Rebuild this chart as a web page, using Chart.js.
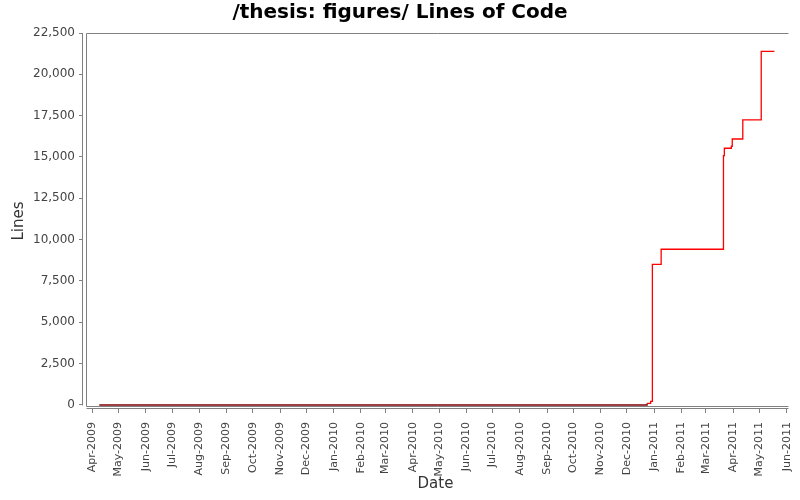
<!DOCTYPE html>
<html>
<head>
<meta charset="utf-8">
<title>/thesis: figures/ Lines of Code</title>
<script src="https://cdn.jsdelivr.net/npm/chart.js@4.4.1/dist/chart.umd.min.js"></script>
<style>
  html, body { margin: 0; padding: 0; background: #fff; }
  #wrap { width: 800px; height: 500px; }
</style>
</head>
<body>
<div id="wrap"><canvas id="locChart" width="800" height="500"></canvas></div>
<script>
// commit dates and line counts
const commitDates = ['2009-04-09', '2010-12-24', '2010-12-28', '2010-12-30', '2011-01-09',
    '2011-03-21', '2011-03-22', '2011-03-30', '2011-03-31', '2011-04-12', '2011-05-03', '2011-05-18'];
const linesOfCode = [0, 100, 220, 8510, 9420, 15080, 15530, 15650, 16090, 17240, 21390, 21390];

const monthLabels = ['Apr-2009', 'May-2009', 'Jun-2009', 'Jul-2009', 'Aug-2009', 'Sep-2009',
    'Oct-2009', 'Nov-2009', 'Dec-2009', 'Jan-2010', 'Feb-2010', 'Mar-2010', 'Apr-2010',
    'May-2010', 'Jun-2010', 'Jul-2010', 'Aug-2010', 'Sep-2010', 'Oct-2010', 'Nov-2010',
    'Dec-2010', 'Jan-2011', 'Feb-2011', 'Mar-2011', 'Apr-2011', 'May-2011', 'Jun-2011'];
const yTicks = [0, 2500, 5000, 7500, 10000, 12500, 15000, 17500, 20000, 22500];

const MONTHS = ['Jan', 'Feb', 'Mar', 'Apr', 'May', 'Jun', 'Jul', 'Aug', 'Sep', 'Oct', 'Nov', 'Dec'];
function labelToTime(label) {
    const [m, y] = label.split('-');
    return Date.UTC(+y, MONTHS.indexOf(m), 1);
}
const monthTimes = monthLabels.map(labelToTime);
const points = commitDates.map((d, i) => ({ x: Date.parse(d), y: linesOfCode[i] }));

const axisGray = '#808080';

// plot frame and offset axis lines, like the original chart
const framePlugin = {
    id: 'frame',
    beforeDatasetsDraw(chart) {
        const { ctx, chartArea, scales } = chart;
        const y0 = Math.round(scales.y.getPixelForValue(0)) + 0.5;
        const yTop = Math.round(scales.y.getPixelForValue(22500)) + 0.5;
        const xl = Math.round(chartArea.left) + 3.5;
        const xr = Math.round(chartArea.right) + 0.5;
        ctx.save();
        ctx.strokeStyle = axisGray;
        ctx.lineWidth = 1;
        ctx.beginPath();
        // plot outline
        ctx.moveTo(xl, y0 + 1);
        ctx.lineTo(xl, yTop);
        ctx.lineTo(xr, yTop);
        ctx.moveTo(xl, y0 + 1);
        ctx.lineTo(xr, y0 + 1);
        // y axis line
        ctx.moveTo(Math.round(chartArea.left) - 0.5, yTop);
        ctx.lineTo(Math.round(chartArea.left) - 0.5, y0);
        // x axis line
        const yb = Math.round(chartArea.bottom) - 0.5;
        ctx.moveTo(xl, yb);
        ctx.lineTo(xr, yb);
        ctx.stroke();
        ctx.restore();
    }
};

new Chart(document.getElementById('locChart'), {
    type: 'line',
    data: {
        datasets: [{
            label: 'Lines',
            data: points,
            stepped: true,
            borderColor: '#ff0000',
            borderWidth: 1.3,
            pointRadius: 0,
            fill: false,
            segment: {
                borderColor: c => (c.p0.parsed.y === 0 ? '#800000' : undefined)
            }
        }]
    },
    options: {
        responsive: false,
        animation: false,
        layout: { padding: 0 },
        plugins: {
            legend: { display: false },
            tooltip: { enabled: false },
            title: {
                display: true,
                text: '/thesis: figures/ Lines of Code',
                color: '#000',
                font: { family: 'DejaVu Sans', size: 20, weight: 'bold' },
                padding: { top: 1, bottom: 8 }
            }
        },
        scales: {
            x: {
                type: 'linear',
                min: Date.UTC(2009, 2, 21, 10),
                max: Date.UTC(2011, 5, 2, 12),
                afterBuildTicks: scale => {
                    scale.ticks = monthTimes.map(v => ({ value: v }));
                },
                afterFit: scale => {
                    scale.height = 91;
                    scale.paddingLeft = 0;
                    scale.paddingRight = 12;
                },
                border: { display: false },
                grid: { drawOnChartArea: false, drawTicks: true, tickLength: 4, color: axisGray },
                ticks: {
                    autoSkip: false,
                    minRotation: 90,
                    maxRotation: 90,
                    padding: 9,
                    color: '#444',
                    font: { family: 'DejaVu Sans', size: 11 },
                    callback: value => monthLabels[monthTimes.indexOf(value)]
                },
                title: {
                    display: true,
                    text: 'Date',
                    color: '#333',
                    font: { family: 'DejaVu Sans', size: 15 },
                    padding: { top: 0, bottom: 7 }
                }
            },
            y: {
                min: -242,
                max: 22500,
                afterBuildTicks: scale => {
                    scale.ticks = yTicks.map(v => ({ value: v }));
                },
                afterFit: scale => { scale.width = 83; },
                border: { display: false },
                grid: { drawOnChartArea: false, drawTicks: true, tickLength: 4, color: axisGray },
                ticks: {
                    padding: 4,
                    color: '#444',
                    font: { family: 'DejaVu Sans', size: 12 },
                    callback: value => value.toLocaleString('en-US')
                },
                title: {
                    display: true,
                    text: 'Lines',
                    color: '#333',
                    font: { family: 'DejaVu Sans', size: 15 },
                    padding: { top: 10, bottom: 0 }
                }
            }
        }
    },
    plugins: [framePlugin]
});
</script>
</body>
</html>
